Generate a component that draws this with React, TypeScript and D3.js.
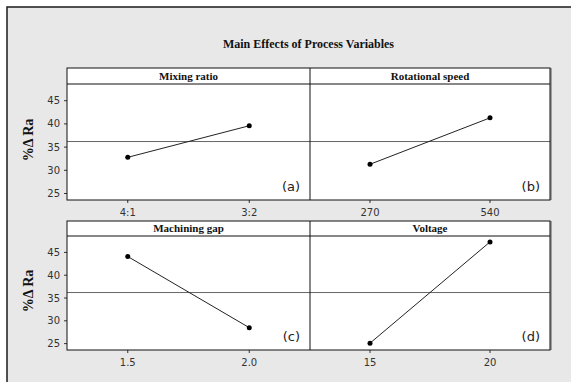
import React from "react";
import * as d3 from "d3";

// Main effects values
const factors = ["Mixing ratio", "Rotational speed", "Machining gap", "Voltage"];
const levels = [["4:1", "3:2"], ["270", "540"], ["1.5", "2.0"], ["15", "20"]];
const means = [[32.8, 39.6], [31.3, 41.3], [44.1, 28.5], [25.1, 47.3]];
const tags = ["(a)", "(b)", "(c)", "(d)"];
const yTicks = [25, 30, 35, 40, 45];
const grandMean = 36.2;

const W = 571;
const H = 382;

// panel grid
const left = 67;
const mid = 310;
const right = 550;
const rows = [
  { top: 68, head: 84, bottom: 200 },
  { top: 221, head: 236, bottom: 350 }
];

const serif = "'Liberation Serif', 'DejaVu Serif', serif";
const sans = "'DejaVu Sans', sans-serif";

export default function App() {
  const cols = [[left, mid], [mid, right]];

  return (
    <svg width={W} height={H} style={{ position: "absolute", left: 0, top: 0 }}>
      <rect x={0} y={0} width={W} height={H} fill="#ffffff" />
      <rect x={7} y={7} width={W} height={H} fill="#e8e8e8" stroke="#1a1a1a" strokeWidth={1.5} />

      <text x={(left + right) / 2} y={48} textAnchor="middle" fontFamily={serif}
        fontWeight="bold" fontSize={12} fill="#111">
        Main Effects of Process Variables
      </text>

      {rows.map((row, ri) => {
        const y = d3.scaleLinear().domain([23.6, 48.6]).range([row.bottom, row.head]);
        return (
          <g key={ri}>
            <rect x={left} y={row.top} width={right - left} height={row.bottom - row.top} fill="#fff" />
            {/* shadow on the right edge */}
            <line x1={right + 1} x2={right + 1} y1={row.top} y2={row.bottom} stroke="#888" strokeWidth={1.5} />

            {/* y axis */}
            {yTicks.map((t) => (
              <g key={t} transform={`translate(${left},${y(t)})`}>
                <line x1={-3} x2={0} stroke="#333" />
                <text x={-7} dy="0.35em" textAnchor="end" fontFamily={sans} fontSize={10} fill="#333">{t}</text>
              </g>
            ))}
            <text transform={`translate(33,${(row.head + row.bottom) / 2 - 2}) rotate(-90)`} textAnchor="middle"
              fontFamily={serif} fontWeight="bold" fontSize={14} fill="#111">
              %Δ Ra
            </text>

            {cols.map(([x0, x1], ci) => {
              const k = ri * 2 + ci;
              const x = d3.scalePoint<string>().domain(levels[k]).range([x0, x1]).padding(0.5);
              const pts: [number, number][] = levels[k].map((l, i) => [x(l) as number, y(means[k][i])]);
              const line = d3.line();
              return (
                <g key={ci}>
                  <text x={(x0 + x1) / 2} y={row.head - 4} textAnchor="middle" fontFamily={serif}
                    fontWeight="bold" fontSize={11} fill="#111">
                    {factors[k]}
                  </text>
                  <line x1={x0} x2={x1} y1={y(grandMean)} y2={y(grandMean)} stroke="#666" strokeWidth={1} />
                  <path d={line(pts) ?? ""} fill="none" stroke="#222" strokeWidth={1} />
                  {pts.map((p, i) => (
                    <circle key={i} cx={p[0]} cy={p[1]} r={2.5} fill="#000" />
                  ))}
                  {levels[k].map((l) => (
                    <g key={l} transform={`translate(${x(l)},${row.bottom})`}>
                      <line y1={0} y2={3} stroke="#333" />
                      <text y={16} textAnchor="middle" fontFamily={sans} fontSize={10} fill="#333">{l}</text>
                    </g>
                  ))}
                  <text x={x1 - 10} y={row.bottom - 9} textAnchor="end" fontFamily={sans} fontSize={13} fill="#222">
                    {tags[k]}
                  </text>
                </g>
              );
            })}

            {/* frames */}
            <rect x={left} y={row.top} width={right - left} height={row.bottom - row.top} fill="none" stroke="#111" strokeWidth={1} />
            <line x1={left} x2={right} y1={row.head} y2={row.head} stroke="#111" />
            <line x1={mid} x2={mid} y1={row.top} y2={row.bottom} stroke="#111" />
          </g>
        );
      })}
    </svg>
  );
}
